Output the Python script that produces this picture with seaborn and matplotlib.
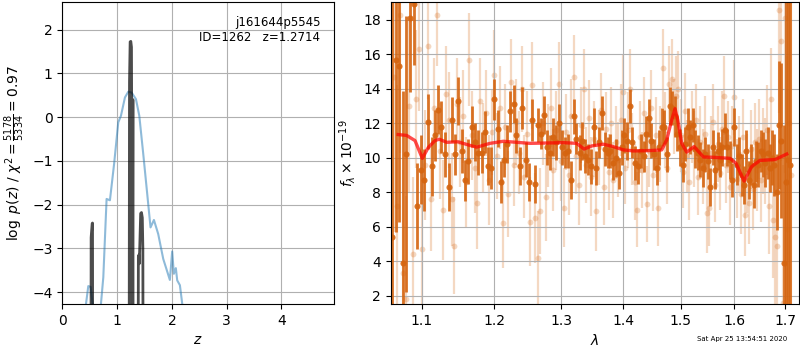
import matplotlib
matplotlib.use('Agg')
import pandas as pd
import seaborn as sns
import matplotlib.pyplot as plt
from matplotlib.ticker import FixedLocator, FixedFormatter, NullLocator

# --- p(z) panel ---
chi2_z = [0.40, 0.432, 0.474, 0.517, 0.553, 0.60, 0.66, 0.705, 0.748, 0.808, 0.869, 0.945, 1.021, 1.07,
          1.143, 1.204, 1.265, 1.344, 1.405, 1.477, 1.55, 1.61, 1.672, 1.75, 1.842, 1.963, 2.005,
          2.036, 2.072, 2.097, 2.146, 2.189, 2.25]
chi2_logp = [-5.0, -4.27, -3.86, -3.88, -4.27, -5.5, -5.5, -4.27, -3.66, -1.87, -1.9, -1.07, -0.12, 0.03,
             0.45, 0.58, 0.56, 0.41, 0.03, -0.84, -1.76, -2.52, -2.35, -2.67, -3.24, -3.72, -3.07,
             -3.58, -3.45, -3.73, -3.84, -4.27, -5.0]

pz_z = [0.0, 0.522, 0.526, 0.535, 0.545, 0.551, 0.556, 1.218, 1.226, 1.238, 1.25, 1.262, 1.27, 1.276,
        1.288, 1.293, 1.382, 1.388, 1.396, 1.404, 1.415, 1.43, 1.445, 1.46, 1.47, 1.476, 4.96]
pz_logp = [-8, -8, -2.75, -2.6, -2.43, -2.42, -8, -8, 0.8, 1.72, 1.73, 1.6, -1.5, -8,
           0.4, -8, -8, -3.2, -3.15, -3.35, -2.9, -2.2, -2.18, -2.3, -3.0, -8, -8]

# --- spectrum panel: binned points ---
bin_wave = [1.062, 1.067, 1.071, 1.076, 1.080, 1.085, 1.090, 1.094, 1.099, 1.103,
            1.108, 1.113, 1.117, 1.122, 1.126, 1.131, 1.136, 1.140, 1.145, 1.149,
            1.154, 1.159, 1.163, 1.168, 1.172, 1.177, 1.182, 1.186, 1.191, 1.195,
            1.200, 1.205, 1.209, 1.214, 1.218, 1.223, 1.228, 1.232, 1.237, 1.241,
            1.246, 1.251, 1.255, 1.260, 1.264, 1.269, 1.274, 1.278, 1.283, 1.287,
            1.292, 1.297, 1.301, 1.306, 1.310, 1.315, 1.320, 1.324, 1.329, 1.333,
            1.338, 1.343, 1.347, 1.352, 1.356, 1.361, 1.366, 1.370, 1.375, 1.379,
            1.384, 1.389, 1.393, 1.398, 1.402, 1.407, 1.412, 1.416, 1.421, 1.425,
            1.430, 1.435, 1.439, 1.444, 1.448, 1.453, 1.458, 1.462, 1.467, 1.471,
            1.476, 1.481, 1.485, 1.490, 1.494, 1.499, 1.504, 1.508, 1.513, 1.517,
            1.522, 1.527, 1.531, 1.536, 1.540, 1.545, 1.550, 1.554, 1.559, 1.563,
            1.568, 1.573, 1.577, 1.582, 1.586, 1.591, 1.596, 1.600, 1.605, 1.609,
            1.614, 1.619, 1.623, 1.628, 1.632, 1.637, 1.642, 1.646, 1.651, 1.655,
            1.660, 1.665, 1.669, 1.674, 1.678, 1.683, 1.688, 1.692, 1.697, 1.701,
            1.706, 1.711]
bin_flux = [5.4, 15.7, 15.3, 3.9, 10.2, 18.1, 18.9, 7.2, 9.3, 8.7,
            12.1, 9.5, 11.3, 12.8, 11.8, 10.2, 8.3, 12.2, 10.2, 13.3,
            10.4, 8.7, 9.8, 11.8, 10.9, 10.3, 10.3, 11.5, 9.5, 9.4,
            13.4, 11.7, 8.6, 9.9, 10.8, 12.7, 13.1, 11.3, 9.5, 12.9,
            9.9, 8.6, 12.2, 8.5, 11.9, 11.4, 12.5, 10.6, 10.3, 11.2,
            10.9, 12.0, 10.6, 10.3, 10.4, 8.7, 12.4, 11.1, 10.3, 11.0,
            10.1, 9.9, 9.5, 11.8, 9.4, 10.9, 12.6, 10.5, 10.3, 10.4,
            9.7, 10.0, 9.1, 10.6, 11.3, 11.0, 13.0, 10.9, 9.7, 9.5,
            10.4, 10.1, 11.4, 12.3, 11.0, 10.2, 9.4, 10.6, 11.8, 11.8,
            10.2, 13.0, 12.9, 12.4, 11.4, 10.6, 9.6, 10.8, 11.8, 11.2,
            11.9, 10.5, 10.3, 9.9, 9.4, 10.2, 9.8, 8.3, 10.6, 9.3,
            10.4, 9.9, 10.6, 11.6, 10.6, 9.9, 8.7, 11.8, 9.6, 10.1,
            9.0, 8.4, 10.4, 8.7, 9.6, 8.4, 9.8, 9.6, 10.4, 10.2,
            9.7, 10.3, 9.4, 10.0, 9.6, 8.0, 11.9, 11.0, 3.9, 8.6,
            9.9, 9.6]
bin_err = [14, 10, 9, 10, 8, 4.3, 3.5, 2.5, 2.0, 1.8,
           1.6, 1.7, 1.5, 1.4, 1.5, 1.3, 1.4, 1.3, 1.2, 1.4,
           1.3, 1.2, 1.3, 1.2, 1.1, 1.3, 1.2, 1.2, 1.1, 1.2,
           1.2, 1.1, 1.2, 1.0, 1.1, 1.2, 1.1, 1.0, 1.1, 1.2,
           1.0, 1.1, 1.2, 1.1, 1.0, 0.9, 1.1, 1.0, 1.0, 1.1,
           1.0, 1.1, 1.0, 0.9, 1.0, 1.1, 1.0, 0.9, 1.0, 1.1,
           1.0, 0.9, 1.0, 1.1, 1.0, 0.9, 1.0, 1.0, 0.9, 1.0,
           1.0, 1.1, 0.9, 1.0, 1.0, 1.1, 1.0, 0.9, 1.0, 1.0,
           1.0, 0.9, 1.0, 1.1, 1.0, 0.9, 1.0, 1.0, 1.1, 1.0,
           1.0, 1.1, 1.0, 1.2, 1.0, 1.1, 1.0, 1.0, 1.1, 1.0,
           1.0, 1.1, 1.0, 1.0, 1.1, 1.0, 1.0, 1.1, 1.0, 1.1,
           1.1, 1.0, 1.1, 1.0, 1.1, 1.1, 1.0, 1.1, 1.2, 1.1,
           1.2, 1.1, 1.2, 1.1, 1.2, 1.3, 1.2, 1.3, 1.2, 1.3,
           1.4, 1.5, 1.4, 1.6, 1.8, 2.2, 3.7, 4.5, 8, 11,
           13, 15]

# --- spectrum panel: unbinned points ---
raw_wave = [1.064, 1.068, 1.072, 1.076, 1.080, 1.084, 1.088, 1.092, 1.096, 1.100,
            1.104, 1.108, 1.112, 1.116, 1.120, 1.124, 1.128, 1.132, 1.136, 1.140,
            1.144, 1.148, 1.152, 1.156, 1.160, 1.164, 1.168, 1.172, 1.176, 1.180,
            1.184, 1.188, 1.192, 1.196, 1.200, 1.204, 1.208, 1.212, 1.216, 1.220,
            1.224, 1.228, 1.232, 1.236, 1.240, 1.244, 1.248, 1.252, 1.256, 1.260,
            1.264, 1.268, 1.272, 1.276, 1.280, 1.284, 1.288, 1.292, 1.296, 1.300,
            1.304, 1.308, 1.312, 1.316, 1.320, 1.324, 1.328, 1.332, 1.336, 1.340,
            1.344, 1.348, 1.352, 1.356, 1.360, 1.364, 1.368, 1.372, 1.376, 1.380,
            1.384, 1.388, 1.392, 1.396, 1.400, 1.404, 1.408, 1.412, 1.416, 1.420,
            1.424, 1.428, 1.432, 1.436, 1.440, 1.444, 1.448, 1.452, 1.456, 1.460,
            1.464, 1.468, 1.472, 1.476, 1.480, 1.484, 1.488, 1.492, 1.496, 1.500,
            1.504, 1.508, 1.512, 1.516, 1.520, 1.524, 1.528, 1.532, 1.536, 1.540,
            1.544, 1.548, 1.552, 1.556, 1.560, 1.564, 1.568, 1.572, 1.576, 1.580,
            1.584, 1.588, 1.592, 1.596, 1.600, 1.604, 1.608, 1.612, 1.616, 1.620,
            1.624, 1.628, 1.632, 1.636, 1.640, 1.644, 1.648, 1.652, 1.656, 1.660,
            1.664, 1.668, 1.672, 1.676, 1.680, 1.684, 1.688, 1.692, 1.696, 1.700,
            1.704, 1.708, 1.712]
raw_flux = [14.7, 7.2, 18.3, 3.3, 1.8, 13.0, 4.4, 13.4, 16.3, 4.7,
            9.6, 16.5, 7.6, 12.9, 18.3, 10.4, 7.0, 13.7, 12.2, 7.6,
            4.9, 13.1, 10.9, 12.4, 8.6, 15.7, 11.3, 9.4, 7.4, 13.3,
            10.6, 12.6, 8.7, 11.5, 14.8, 10.1, 12.9, 6.2, 11.8, 7.9,
            14.4, 9.6, 12.1, 10.3, 14.0, 8.9, 11.4, 6.3, 14.2, 6.5,
            4.2, 6.9, 12.0, 7.7, 10.7, 12.9, 9.3, 11.6, 14.3, 9.8,
            7.1, 11.5, 9.0, 12.4, 14.7, 10.1, 8.4, 11.9, 14.0, 9.6,
            12.3, 8.9, 11.1, 6.9, 10.6, 12.8, 8.3, 11.7, 9.2, 12.0,
            8.7, 10.9, 9.9, 12.2, 13.8, 9.4, 11.6, 14.0, 10.5, 8.6,
            7.0, 11.2, 9.3, 12.6, 7.3, 10.4, 12.9, 9.0, 11.3, 7.1,
            10.8, 15.2, 11.6, 9.4, 14.3, 14.6, 12.4, 13.6, 14.0, 11.3,
            9.2, 12.7, 10.1, 8.6, 11.8, 10.5, 12.2, 8.9, 10.9, 9.5,
            11.4, 6.8, 7.1, 10.3, 12.1, 8.4, 10.8, 9.1, 11.7, 13.6,
            9.6, 11.2, 8.3, 10.7, 13.5, 8.8, 10.2, 7.9, 11.2, 6.7,
            9.1, 7.4, 10.5, 8.2, 10.9, 9.3, 11.1, 8.7, 10.4, 9.8,
            11.6, 7.2, 13.4, 6.4, 5.4, 4.9, 18.6, 16.8, 1.6, 18.1,
            5.9, 12.0, 9.0]
raw_err = [9, 7, 8, 6, 6, 5, 4.5, 4, 3.6, 3.4,
           3.2, 3.1, 3.0, 2.9, 3.0, 2.8, 2.9, 2.8, 2.8, 2.7,
           2.8, 2.7, 2.6, 2.7, 2.6, 2.7, 2.6, 2.6, 2.7, 2.5,
           2.6, 2.5, 2.6, 2.5, 2.6, 2.5, 2.4, 2.6, 2.5, 2.5,
           2.5, 2.4, 2.5, 2.4, 2.5, 2.4, 2.5, 2.6, 2.5, 2.6,
           2.7, 2.5, 2.4, 2.5, 2.4, 2.3, 2.4, 2.3, 2.4, 2.3,
           2.3, 2.2, 2.3, 2.2, 2.4, 2.2, 2.3, 2.2, 2.3, 2.2,
           2.2, 2.3, 2.2, 2.3, 2.2, 2.1, 2.2, 2.1, 2.2, 2.1,
           2.2, 2.1, 2.2, 2.1, 2.2, 2.1, 2.2, 2.3, 2.1, 2.2,
           2.2, 2.1, 2.2, 2.1, 2.2, 2.1, 2.2, 2.1, 2.2, 2.2,
           2.2, 2.3, 2.2, 2.1, 2.2, 2.3, 2.2, 2.3, 2.2, 2.1,
           2.1, 2.2, 2.1, 2.2, 2.1, 2.2, 2.1, 2.2, 2.1, 2.2,
           2.2, 2.3, 2.2, 2.1, 2.2, 2.1, 2.2, 2.1, 2.2, 2.3,
           2.2, 2.1, 2.2, 2.3, 2.2, 2.3, 2.2, 2.3, 2.2, 2.4,
           2.3, 2.4, 2.3, 2.4, 2.3, 2.4, 2.3, 2.4, 2.5, 2.5,
           2.6, 2.8, 3.0, 3.4, 4.0, 4.7, 6, 7, 8, 9,
           10, 11, 12]

# --- best-fit model ---
model_wave = [1.0694, 1.0803, 1.0912, 1.1008, 1.1087, 1.1176, 1.1233, 1.1334, 1.1488, 1.1655,
              1.1749, 1.1938, 1.2129, 1.2524, 1.3035, 1.3245, 1.3362, 1.3485, 1.3674, 1.3839,
              1.4006, 1.4175, 1.4461, 1.4665, 1.4753, 1.4842, 1.4901, 1.4949, 1.502, 1.5111,
              1.5244, 1.5416, 1.5602, 1.5916, 1.6030, 1.6186, 1.6335, 1.6498, 1.6798, 1.7034]
model_flux = [11.35, 11.3, 11.0, 9.97, 10.6, 11.0, 11.08, 10.9, 10.93, 10.72,
              10.62, 10.84, 10.96, 10.84, 10.88, 10.84, 10.51, 10.69, 10.79, 10.65,
              10.46, 10.4, 10.42, 10.46, 11.04, 12.2, 12.85, 12.2, 10.84, 10.33,
              10.65, 10.05, 10.03, 9.97, 9.68, 8.65, 9.5, 9.85, 9.9, 10.22]

SPEC_COLOR = '#d5640f'

fig = plt.figure(figsize=(8, 3.5), dpi=100)
ax1 = fig.add_axes([0.0779, 0.1314, 0.3397, 0.8629])
ax2 = fig.add_axes([0.4884, 0.1314, 0.5108, 0.8629])

# left: redshift probability
chi2_df = pd.DataFrame({'z': chi2_z, 'logp': chi2_logp})
pz_df = pd.DataFrame({'z': pz_z, 'logp': pz_logp})
sns.lineplot(data=chi2_df, x='z', y='logp', ax=ax1, color='C0', alpha=0.5,
             linewidth=1.5, sort=False, estimator=None)
sns.lineplot(data=pz_df, x='z', y='logp', ax=ax1, color='k', alpha=0.7,
             linewidth=2, sort=False, estimator=None)
ax1.set_xlim(0, 4.96)
ax1.set_ylim(-4.27, 2.63)
ax1.set_xticks([0, 1, 2, 3, 4])
ax1.set_yticks([-4, -3, -2, -1, 0, 1, 2])
ax1.grid(True)
ax1.set_xlabel(r'$z$')
ax1.set_ylabel(r'$\log\ p(z)$' + ' / ' + r'$\chi^2=\frac{5178}{5334}=0.97$')
ax1.text(0.95, 0.955, 'j161644p5545\nID=1262   z=1.2714', ha='right', va='top',
         transform=ax1.transAxes, fontsize=8.5)

# right: spectrum
ax2.errorbar(raw_wave, raw_flux, yerr=raw_err, fmt='o', color=SPEC_COLOR, alpha=0.25,
             markersize=4.2, elinewidth=1.6, capsize=0, markeredgewidth=0, zorder=1)
ax2.errorbar(bin_wave, bin_flux, yerr=bin_err, fmt='o', color=SPEC_COLOR, alpha=0.9,
             markersize=4.4, elinewidth=2.0, capsize=0, markeredgewidth=0, zorder=2)
model_df = pd.DataFrame({'wave': model_wave, 'flux': model_flux})
sns.lineplot(data=model_df, x='wave', y='flux', ax=ax2, color='r', alpha=0.7,
             linewidth=2.4, sort=False, estimator=None, zorder=3)

ax2.set_xscale('log')
xt = [1.1, 1.2, 1.3, 1.4, 1.5, 1.6, 1.7]
ax2.xaxis.set_major_locator(FixedLocator(xt))
ax2.xaxis.set_major_formatter(FixedFormatter(['%.1f' % t for t in xt]))
ax2.xaxis.set_minor_locator(NullLocator())
ax2.set_xlim(1.0599, 1.7294)
ax2.set_ylim(1.52, 19.04)
ax2.set_yticks([2, 4, 6, 8, 10, 12, 14, 16, 18])
ax2.grid(True)
ax2.set_xlabel(r'$\lambda$')
ax2.set_ylabel(r'$f_\lambda \times 10^{-19}$')

fig.text(0.984, 0.031, 'Sat Apr 25 13:54:51 2020', ha='right', va='center', fontsize=5)

fig.savefig('out.png', dpi=100)
